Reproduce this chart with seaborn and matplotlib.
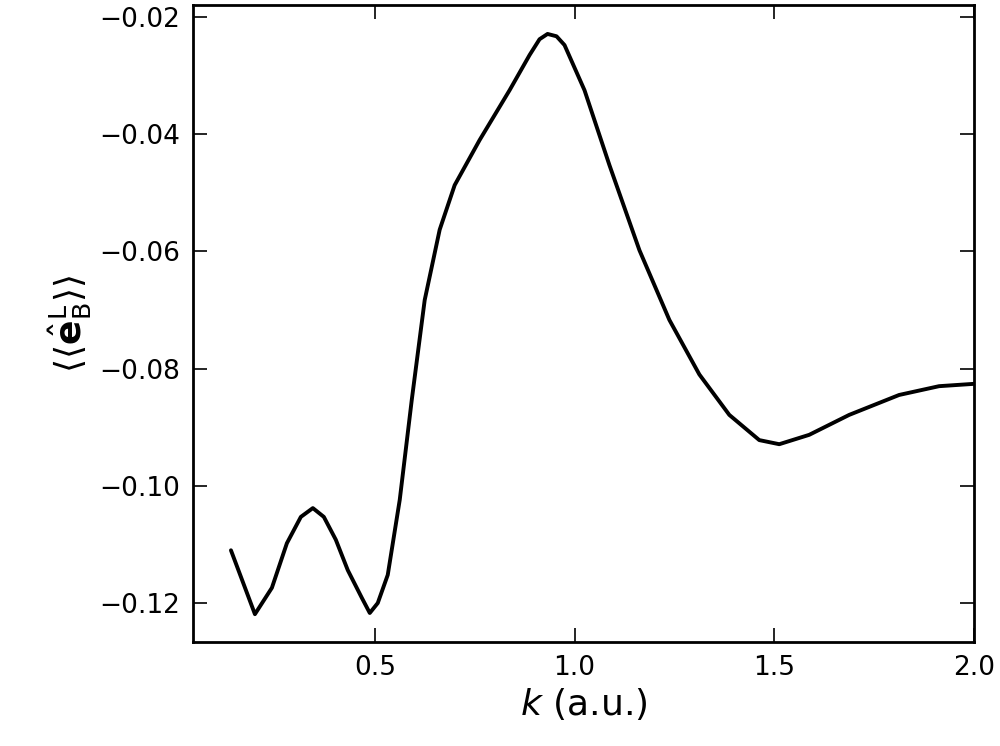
import numpy as np
import pandas as pd
import matplotlib
matplotlib.use('Agg')
import matplotlib.pyplot as plt
import seaborn as sns

k = [0.14, 0.20, 0.2425, 0.28, 0.315, 0.345, 0.3725, 0.4025, 0.4325, 0.4675,
     0.4875, 0.5075, 0.5325, 0.5625, 0.5925, 0.625, 0.6625, 0.70, 0.7625,
     0.8375, 0.8875, 0.9125, 0.9325, 0.955, 0.975, 1.025, 1.0875, 1.1625,
     1.2375, 1.3125, 1.3875, 1.4625, 1.5125, 1.5875, 1.6875, 1.8125, 1.9125,
     2.0]
e = [-0.111, -0.1219, -0.1174, -0.1098, -0.1053, -0.1038, -0.1053, -0.1092,
     -0.1144, -0.1191, -0.1217, -0.120, -0.1152, -0.1024, -0.0854, -0.0683,
     -0.0563, -0.0487, -0.041, -0.0325, -0.0265, -0.0238, -0.0229, -0.0233,
     -0.0248, -0.0325, -0.0453, -0.0598, -0.0717, -0.081, -0.0879, -0.0922,
     -0.0929, -0.0913, -0.0879, -0.0845, -0.083, -0.0826]

sns.set_style('ticks')
plt.rcParams['font.family'] = ['DejaVu Sans']
fig = plt.figure(figsize=(10, 7.46), dpi=100)
ax = fig.add_axes([0.193, 0.139, 0.781, 0.854])
df = pd.DataFrame({'k': k, 'e': e})
sns.lineplot(data=df, x='k', y='e', color='black', lw=2.8, ax=ax)

ax.set_xlim(0.045, 2.0)
ax.set_ylim(-0.1267, -0.018)
ax.set_xticks([0.5, 1.0, 1.5, 2.0])
ax.set_yticks([-0.12, -0.10, -0.08, -0.06, -0.04, -0.02])
ax.set_yticklabels(['\u22120.12', '\u22120.10', '\u22120.08', '\u22120.06', '\u22120.04', '\u22120.02'])
ax.tick_params(direction='in', length=10, width=1.2, labelsize=19, top=True, right=True,
               pad=9, colors='black')
for s in ax.spines.values():
    s.set_linewidth(2)
    s.set_color('black')
ax.set_xlabel(r'$k$ (a.u.)', fontsize=26, color='black')
ax.set_ylabel(r'$\langle\langle\hat{\mathbf{e}}_{\mathrm{B}}^{\mathrm{L}}\rangle\rangle$', fontsize=26,
              color='black')
fig.savefig('out.png', dpi=100)
